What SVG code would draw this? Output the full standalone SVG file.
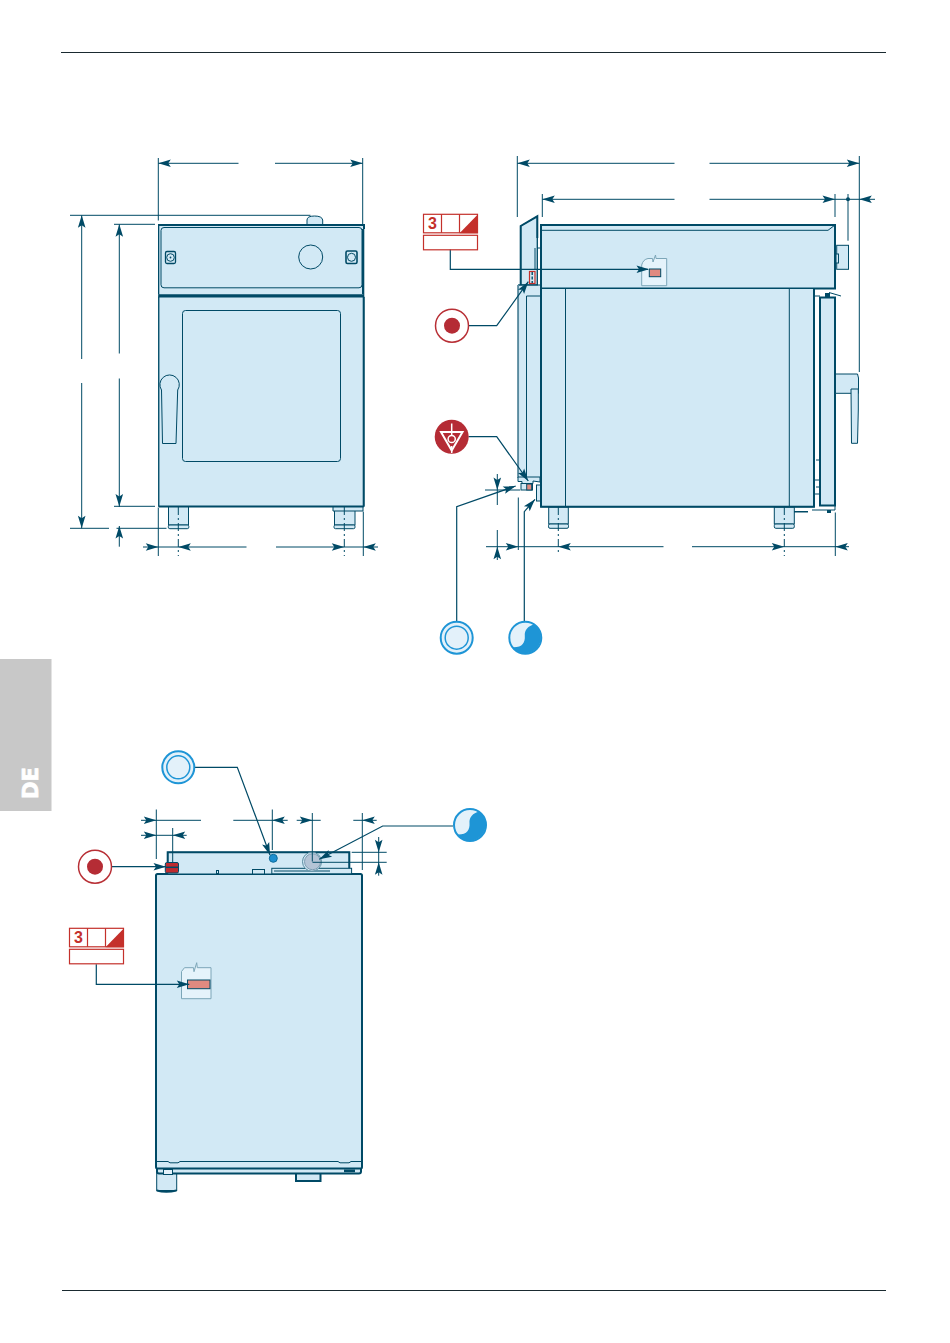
<svg xmlns="http://www.w3.org/2000/svg" xmlns:xlink="http://www.w3.org/1999/xlink" width="950" height="1343" viewBox="0 0 950 1343">
<style>
.b{fill:#d2e9f5;stroke:#004a66;stroke-width:1}
.t{fill:#d2e9f5;stroke:#004a66;stroke-width:2}
.n{fill:none;stroke:#004a66;stroke-width:1}
.k{fill:none;stroke:#004a66;stroke-width:2}
.d{fill:none;stroke:#004a66;stroke-width:1;stroke-dasharray:8 3 2 3}
.r{fill:none;stroke:#c4302b;stroke-width:1.2}
.rf{fill:#c4302b}
.c{fill:none;stroke:#004a66;stroke-width:1.2}
.bl{fill:#e3f1fa;stroke:#1e95d6;stroke-width:2}
.pk{fill:#e08a80;stroke:#004a66;stroke-width:1}
.lab{font-family:"Liberation Sans",Arial,sans-serif;font-weight:bold;font-size:16px;fill:#c4302b}
</style>
<defs>
<path id="a" d="M0 0L-12.500 -3.800L-10 0L-12.500 3.800Z" fill="#004a66"/>
<g id="tag">
<rect class="r" x="0" y="0" width="54" height="18.500" fill="#fff"/>
<path class="r" d="M18 0V18.500M36 0V18.500"/>
<path class="rf" d="M54.500 0V19H36Z"/>
<text class="lab" x="9" y="15" text-anchor="middle">3</text>
<rect class="r" x="0" y="21" width="54" height="14.500" fill="#fff"/>
</g>
<g id="redc"><circle r="16.500" fill="#fff" stroke="#b82f35" stroke-width="1.500"/><circle r="8" fill="#b52c35"/></g>
<g id="ring"><circle r="16" class="bl"/><circle r="11.500" fill="none" stroke="#1e95d6" stroke-width="1.500"/></g>
<g id="yin"><circle r="16" class="bl"/><path d="M9 -13.300C3 -12 -1 -8 -0.500 -2C0 5 -3 10 -13 9.500A16 16 0 1 0 9 -13.300Z" fill="#1e95d6"/></g>
</defs>
<rect width="950" height="1343" fill="#fff"/>
<g id="page-rules">
<path d="M61 52.500H886M62 1290.500H886" fill="none" stroke="#1a2a30" stroke-width="1"/>
</g>
<g id="language-tab">
<rect x="0" y="659" width="51.500" height="152" fill="#c8c8c8"/>
<text transform="translate(38,799) rotate(-90)" font-family="'DejaVu Sans',sans-serif" font-weight="bold" font-size="21" fill="#fff" stroke="#fff" stroke-width="0.700" textLength="32" lengthAdjust="spacingAndGlyphs">DE</text>
</g>
<g id="front-view">
<rect class="b" x="168.500" y="506" width="20" height="19"/>
<rect class="b" x="168.300" y="525" width="20.500" height="3.700" rx="1.500" stroke-width="1.400"/>
<rect class="b" x="334.500" y="506" width="20.500" height="19"/>
<rect class="b" x="334" y="525" width="21" height="3.700" rx="1.500" stroke-width="1.400"/>
<path class="b" d="M333 506H363V511H333Z"/>
<path class="b" d="M307 225V220Q307 216 314.500 216T322.700 220V225Z"/>
<rect class="b" x="158.800" y="225" width="205" height="72" stroke="none"/>
<path class="k" d="M158 225H364V229M363 229V294"/>
<path class="n" d="M158.500 225V294"/>
<rect class="b" x="161" y="227.500" width="201" height="60.300" rx="3"/>
<path d="M158.500 296H364" stroke="#004a66" stroke-width="3.400"/>
<rect class="b" x="158.800" y="297" width="205" height="209.500" stroke="none"/>
<path class="k" d="M363.700 297V506.500M159 506.500H363.700"/>
<path class="b" d="M158.700 297V506.500" fill="none" stroke-width="1.400"/>
<rect class="b" x="182.500" y="310.500" width="158" height="151" rx="3"/>
<path class="b" d="M161.500 390A9.700 9.700 0 1 1 177.700 390L176 443.500H162.500Z"/>
<circle class="b" cx="310.700" cy="257" r="12"/>
<g fill="#d2e9f5" stroke="#004a66">
<rect x="165.500" y="251.500" width="10" height="12" rx="1.500" stroke-width="1.300"/><circle cx="170.500" cy="257.500" r="3.800"/>
<rect x="346" y="251" width="11" height="12.500" rx="1.500" stroke-width="1.600"/><circle cx="351.500" cy="257.300" r="4"/>
</g>
<circle cx="170.500" cy="257.500" r="0.900" fill="#004a66"/>
</g>
<g id="side-view">
<rect class="b" x="548.700" y="507" width="19.600" height="17"/>
<rect class="b" x="548.500" y="524" width="20" height="4.300" rx="1.500" stroke-width="1.400"/>
<rect class="b" x="774.300" y="507" width="20" height="17"/>
<rect class="b" x="774.300" y="524" width="20" height="4.300" rx="1.500" stroke-width="1.400"/>
<path class="b" d="M520.700 226L537.300 216.300V285H520.700Z" stroke-width="0"/>
<path class="k" d="M520.700 285V226L537.300 216.300V238"/>
<path class="n" d="M537.300 238V285"/>
<path class="b" d="M518 285H540.700V478H518Z" stroke-width="0"/>
<path class="n" d="M526.500 296V480M518.300 285H538M526.500 296H540" />
<path d="M518.300 285V477" fill="none" stroke="#5a8ba0" stroke-width="1.500"/>
<path class="b" d="M518 477V481.500H522V483.500H533V481L540 482V477Z"/>
<rect class="b" x="521" y="483.500" width="11.500" height="6.500" fill="#fff"/>
<rect class="pk" x="526.700" y="484" width="5" height="6" stroke="none"/>
<rect class="b" x="536.500" y="485" width="4.500" height="16"/>
<rect x="529.500" y="271.500" width="5.500" height="12" fill="#d2e9f5" stroke="#c4302b" stroke-width="1.200"/>
<path d="M532.200 272V283" stroke="#004a66" stroke-width="1.400" stroke-dasharray="3 1.500"/>
<path class="b" d="M535 248V270M537 248H540" stroke-width="1"/>
<rect class="b" x="836.700" y="245.300" width="11.800" height="24"/>
<rect class="b" x="836" y="254" width="2.500" height="9"/>
<rect class="t" x="541" y="225" width="294" height="63.500"/>
<path class="n" d="M541 230.300H828L835 225"/>
<path class="b" d="M541 288.500H814V506.800H541Z" stroke-width="0"/>
<path class="k" d="M541 288.500V506.800H814V288.500"/>
<path class="n" d="M565.500 288.500V506.800M789.300 288.500V506.800"/>
<rect class="t" x="820" y="297.500" width="15" height="208"/>
<path class="n" d="M814 296H820M828 293V297M829 292.500L841 296M812 510H835V505M816 460H820V487H816M814 480H820M814 494H820"/>
<rect x="825" y="293" width="5" height="4" fill="#004a66"/>
<path d="M794 511H808V512.500H794ZM827 510H831V513H827Z" fill="#004a66"/>
<path class="b" d="M835.500 374H857.500L858.500 378V393.300H835.500Z"/>
<path class="b" d="M851 389H858.300V410L857.500 443.300H851.500Z" fill="#cfe3ee" stroke="#4d8aa3"/>
<g id="side-label-patch">
<path d="M641.700 265Q643 259.500 648 258.500H652.500L653 262L655.500 255L656 258.500H666.700V285.700H641.700Z" fill="#e5f3fb" stroke="#7ca6b8"/>
<rect class="pk" x="649.300" y="269" width="11.400" height="7.700" stroke-width="1.200"/>
</g>
</g>
<g id="top-view">
<rect class="b" x="156.700" y="1172" width="20" height="18.500"/>
<path class="k" d="M156.800 1190.500Q166 1193 176.500 1190.500" />
<rect class="t" x="296" y="1172" width="24.500" height="9" stroke-width="1.500"/>
<rect class="t" x="157" y="1166" width="204" height="7.500" rx="2" stroke-width="1.500"/>
<rect x="163.500" y="1169.500" width="9" height="5" fill="#e3f1fa" stroke="#004a66"/>
<rect x="344" y="1169.500" width="11" height="2.700" fill="#004a66"/>
<rect class="t" x="156" y="874" width="206" height="294.500" rx="1.500"/>
<path class="n" d="M156 1161.500H168L170 1162.800H178L180 1161.500H338L340 1162.800H349L351 1161.500H362"/>
<path class="b" d="M167.700 874V852.300H349.300V874Z"/>
<path class="k" d="M167.700 862V852.300H349.300V868" stroke-width="1.500"/>
<rect class="b" x="271.800" y="868.300" width="79.800" height="5.500"/>
<path class="n" d="M274 871H330"/>
<rect class="b" x="252.500" y="869.500" width="12" height="4.500"/>
<rect class="b" x="216.500" y="870.500" width="2" height="3.500"/>
<rect x="165.300" y="862.500" width="13.200" height="10.500" rx="1.500" fill="#bf2b2f" stroke="#004a66"/>
<path d="M166 867.300H178" stroke="#004a66" stroke-width="1.500"/>
<circle cx="273.300" cy="858.300" r="4" fill="#1e8fcf" stroke="#0d6c9a"/>
<circle cx="312" cy="861.700" r="9.500" fill="#d2e9f5" stroke="#5a8ba0"/>
<circle cx="312.500" cy="861.700" r="8" fill="#b4c4d6" stroke="#7e9cb2"/>
<path d="M181.500 971.500L184.500 967.700H193.500L194 971.700L196.700 962.700L197.300 967.700H211V998.700H181.500Z" fill="#e5f3fb" stroke="#7ca6b8"/>
<rect class="pk" x="187.500" y="980" width="22.500" height="8.700" stroke-width="1.200"/>
</g>
<g id="dimensions">
<path class="n" d="M158.300 158V220.500M362.700 158V225M158.300 163.300H238.500M275 163.300H362.700"/>
<path class="n" d="M70 215.300H310.500M81.700 215.300V359M81.700 383V528.300M70 528.300H109M116.500 528.300H166.500"/>
<path class="n" d="M114 224.300H155M119.300 224.300V353.500M119.300 378.500V507M114 506.300H155M119.300 526V546.700"/>
<path class="n" d="M143 547H246.500M276 547H378M158.300 507.500V556M363.300 511.500V556"/>
<path class="d" d="M178.300 507V556M344.300 507V556"/>
<path class="n" d="M517.300 156V217M859.300 156V372M517.300 163.300H674.500M709.500 163.300H859.300"/>
<path class="n" d="M542.300 194V217M835 194V217M542.300 199.300H674.500M709.500 199.300H875M848 194V240.700"/>
<circle cx="848" cy="199.300" r="2" fill="#004a66"/>
<path class="n" d="M497.300 474V505M485 490H520M497.300 530V560M486 546.700H663.500M692 546.700H849M518.300 497.500V550M835.300 512.500V556"/>
<path class="d" d="M558.300 507V555M784.300 507V556"/>
<path class="n" d="M141 820.300H201M233.300 820.300H287.700M156.300 809.500V859M272.300 809.500V850M141 835.300H186.700M172.700 828V862"/>
<path class="n" d="M296.700 820.300H320.700M312.300 813V861.500M353.300 820.300H376.700M362.300 813V870"/>
<path class="n" d="M378.700 837V875.700M351.700 852.300H386.700M312.500 862.300H386.700"/>
<g>
<use xlink:href="#a" href="#a" transform="translate(158.300,163.300) rotate(180)"/>
<use xlink:href="#a" href="#a" transform="translate(362.700,163.300)"/>
<use xlink:href="#a" href="#a" transform="translate(81.700,215.300) rotate(-90)"/>
<use xlink:href="#a" href="#a" transform="translate(81.700,528.300) rotate(90)"/>
<use xlink:href="#a" href="#a" transform="translate(119.300,224.300) rotate(-90)"/>
<use xlink:href="#a" href="#a" transform="translate(119.300,506.500) rotate(90)"/>
<use xlink:href="#a" href="#a" transform="translate(119.300,526) rotate(-90)"/>
<use xlink:href="#a" href="#a" transform="translate(158.300,547)"/>
<use xlink:href="#a" href="#a" transform="translate(178.300,547) rotate(180)"/>
<use xlink:href="#a" href="#a" transform="translate(344.300,547)"/>
<use xlink:href="#a" href="#a" transform="translate(363.300,547) rotate(180)"/>
<use xlink:href="#a" href="#a" transform="translate(517.300,163.300) rotate(180)"/>
<use xlink:href="#a" href="#a" transform="translate(859.300,163.300)"/>
<use xlink:href="#a" href="#a" transform="translate(542.300,199.300) rotate(180)"/>
<use xlink:href="#a" href="#a" transform="translate(835,199.300)"/>
<use xlink:href="#a" href="#a" transform="translate(859.300,199.300) rotate(180)"/>
<use xlink:href="#a" href="#a" transform="translate(497.300,490) rotate(90)"/>
<use xlink:href="#a" href="#a" transform="translate(497.300,546.700) rotate(-90)"/>
<use xlink:href="#a" href="#a" transform="translate(518.300,546.700)"/>
<use xlink:href="#a" href="#a" transform="translate(558.300,546.700) rotate(180)"/>
<use xlink:href="#a" href="#a" transform="translate(784.300,546.700)"/>
<use xlink:href="#a" href="#a" transform="translate(835.300,546.700) rotate(180)"/>
<use xlink:href="#a" href="#a" transform="translate(156.300,820.300)"/>
<use xlink:href="#a" href="#a" transform="translate(272.300,820.300) rotate(180)"/>
<use xlink:href="#a" href="#a" transform="translate(156.300,835.300)"/>
<use xlink:href="#a" href="#a" transform="translate(172.700,835.300) rotate(180)"/>
<use xlink:href="#a" href="#a" transform="translate(312.300,820.300)"/>
<use xlink:href="#a" href="#a" transform="translate(362.300,820.300) rotate(180)"/>
<use xlink:href="#a" href="#a" transform="translate(378.700,852.300) rotate(90)"/>
<use xlink:href="#a" href="#a" transform="translate(378.700,862.300) rotate(-90)"/>
</g>
</g>
<g id="connectors">
<path class="c" d="M450.300 249.500V269.300H648"/>
<path class="c" d="M468.500 325.700H496.700L528.300 281.700"/>
<path class="c" d="M468.500 436.700H496.700L528.300 481"/>
<path class="c" d="M456.700 621V506.700L515.700 486"/>
<path class="c" d="M524.300 621V511.700L535 499.300"/>
<path class="c" d="M195 767.300H237.300L270 855"/>
<path class="c" d="M453 826H382.700L319.300 859.300"/>
<path class="c" d="M112 866.700H166"/>
<path class="c" d="M96.300 964.300V984.300H189.300"/>
<use xlink:href="#a" href="#a" transform="translate(649,269.300)"/>
<use xlink:href="#a" href="#a" transform="translate(528.300,281.700) rotate(-54.300)"/>
<use xlink:href="#a" href="#a" transform="translate(528.300,481) rotate(54.500)"/>
<use xlink:href="#a" href="#a" transform="translate(515.700,486) rotate(-19.300)"/>
<use xlink:href="#a" href="#a" transform="translate(535,499.300) rotate(-49)"/>
<use xlink:href="#a" href="#a" transform="translate(270,855) rotate(69.500)"/>
<use xlink:href="#a" href="#a" transform="translate(319.300,859.300) rotate(152.300)"/>
<use xlink:href="#a" href="#a" transform="translate(166,866.700)"/>
<use xlink:href="#a" href="#a" transform="translate(189.300,984.300)"/>
</g>
<g id="tag-side"><use xlink:href="#tag" href="#tag" transform="translate(423.500,214.300)"/></g>
<g id="tag-top"><use xlink:href="#tag" href="#tag" transform="translate(69.500,928.300)"/></g>
<g id="callout-electric-side"><use xlink:href="#redc" href="#redc" transform="translate(452,325.700)"/></g>
<g id="callout-ground-side">
<circle cx="451.700" cy="436.700" r="17" fill="#b52c35"/>
<path d="M441 432H462.500L451.700 450.500Z" fill="none" stroke="#fff" stroke-width="2"/>
<circle cx="451.700" cy="439" r="3.600" fill="none" stroke="#fff" stroke-width="1.500"/>
<path d="M451.700 423.500V435M451.700 446V453" stroke="#fff" stroke-width="1.500"/>
</g>
<g id="callout-water-side"><use xlink:href="#ring" href="#ring" transform="translate(456.700,637.700)"/></g>
<g id="callout-drain-side"><use xlink:href="#yin" href="#yin" transform="translate(525.300,637.700)"/></g>
<g id="callout-water-top"><use xlink:href="#ring" href="#ring" transform="translate(178.300,767.300)"/></g>
<g id="callout-drain-top"><use xlink:href="#yin" href="#yin" transform="translate(470,825)"/></g>
<g id="callout-electric-top"><use xlink:href="#redc" href="#redc" transform="translate(95,866.700)"/></g>
</svg>
